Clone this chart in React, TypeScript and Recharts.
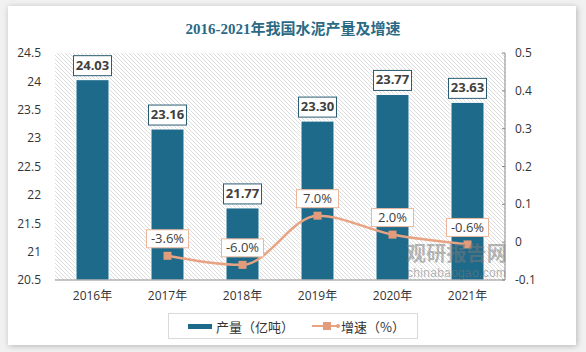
import React from "react";
import {
  ComposedChart,
  Bar,
  Line,
  XAxis,
  YAxis,
  CartesianGrid,
  LabelList,
} from "recharts";

const years = ["2016年", "2017年", "2018年", "2019年", "2020年", "2021年"];
const output = [24.03, 23.16, 21.77, 23.3, 23.77, 23.63];
const growth = [null, -0.036, -0.06, 0.07, 0.02, -0.006];
const leftTicks = [20.5, 21, 21.5, 22, 22.5, 23, 23.5, 24, 24.5];
const rightTicks = [-0.1, 0, 0.1, 0.2, 0.3, 0.4, 0.5];

const data = years.map((name, i) => ({
  name,
  output: output[i],
  growth: growth[i],
}));

const BAR = "#1d6a8b";
const LINE = "#e8a383";
const FONT = "'Open Sans', 'Noto Sans CJK SC', sans-serif";

const BarLabel = (props: any) => {
  const { x, y, width, value } = props;
  const cx = x + width / 2;
  return (
    <g>
      <rect x={cx - 19} y={y - 24} width={38} height={20} fill="#fff" stroke="#2a5d74" strokeWidth={1} />
      <text x={cx} y={y - 10} textAnchor="middle" fontSize={13} fontWeight="bold" fill="#404040" fontFamily={FONT}>
        {Number(value).toFixed(2)}
      </text>
    </g>
  );
};

const LineLabel = (props: any) => {
  const { x, y, value } = props;
  if (value === null || value === undefined) return null;
  return (
    <g>
      <rect x={x - 21} y={y - 26} width={42} height={18} fill="#fff" stroke="#eab79c" strokeWidth={1} />
      <text x={x} y={y - 12.5} textAnchor="middle" fontSize={13} fill="#404040" fontFamily={FONT}>
        {(value * 100).toFixed(1) + "%"}
      </text>
    </g>
  );
};

const SquareDot = (props: any) => {
  const { cx, cy, value } = props;
  if (value === null || value === undefined || cx == null || cy == null) return <g />;
  return <rect x={cx - 4} y={cy - 4} width={8} height={8} fill="#e39c79" />;
};

const RightTick = (props: any) => {
  const { x, y, payload } = props;
  return (
    <g>
      <line x1={x - 13} x2={x - 10} y1={y} y2={y} stroke="#868686" />
      <text x={x} y={y + 4} textAnchor="start" fontSize={12} fill="#333" fontFamily={FONT}>
        {String(payload.value)}
      </text>
    </g>
  );
};

const App = () => {
  return (
    <div style={{ position: "absolute", left: 0, top: 0, width: 586, height: 352, background: "#f1f1f1", overflow: "hidden" }}>
      <div
        style={{
          position: "absolute",
          left: 8,
          top: 6,
          width: 568,
          height: 339,
          background: "#fff",
          boxShadow: "1px 1px 6px rgba(0,0,0,0.25)",
        }}
      />
      <div
        style={{
          position: "absolute",
          left: 0,
          top: 17,
          width: 586,
          textAlign: "center",
          fontFamily: "'Liberation Serif', 'Noto Sans CJK SC', serif",
          fontWeight: "bold",
          fontSize: 15,
          color: "#2b6a85",
        }}
      >
        2016-2021年我国水泥产量及增速
      </div>
      <div style={{ position: "absolute", left: 0, top: 0 }}>
        <ComposedChart width={586} height={352} data={data} margin={{ top: 53, right: 21, bottom: 40, left: 0 }}>
          <defs>
            <pattern id="hatch" width="4" height="4" patternUnits="userSpaceOnUse">
              <rect width="4" height="4" fill="#fff" />
              <path d="M-1,-1 L5,5 M-1,3 L1,5 M3,-1 L5,1" stroke="#d4d4d4" strokeWidth={0.8} />
            </pattern>
          </defs>
          <CartesianGrid horizontal={false} vertical={false} fill="url(#hatch)" />
          <XAxis
            dataKey="name"
            axisLine={{ stroke: "#8c8c8c" }}
            tickLine={false}
            tickSize={0}
            tickMargin={11}
            height={32}
            tick={{ fontSize: 12, fill: "#333", fontFamily: FONT }}
            interval={0}
          />
          <YAxis
            yAxisId="left"
            domain={[20.5, 24.5]}
            ticks={leftTicks}
            width={55}
            axisLine={false}
            tickLine={false}
            tickSize={0}
            tickMargin={14}
            tick={{ fontSize: 12, fill: "#333", fontFamily: FONT }}
            allowDataOverflow
          />
          <YAxis
            yAxisId="right"
            orientation="right"
            domain={[-0.1, 0.5]}
            ticks={rightTicks}
            width={60}
            axisLine={{ stroke: "#868686" }}
            tickLine={false}
            tickSize={0}
            tickMargin={10}
            tick={<RightTick />}
          />
          <Bar yAxisId="left" dataKey="output" fill={BAR} stroke="#fff" strokeWidth={1} barSize={33} isAnimationActive={false}>
            <LabelList dataKey="output" content={<BarLabel />} />
          </Bar>
          <Line
            yAxisId="right"
            dataKey="growth"
            type="monotone"
            stroke={LINE}
            strokeWidth={2.5}
            dot={<SquareDot />}
            activeDot={false}
            connectNulls
            isAnimationActive={false}
          >
            <LabelList dataKey="growth" content={<LineLabel />} />
          </Line>
        </ComposedChart>
      </div>
      <div
        style={{
          position: "absolute",
          left: 406,
          top: 243,
          lineHeight: "20px",
          fontFamily: "'Noto Sans CJK SC', sans-serif",
          fontWeight: "bold",
          fontSize: 20,
          color: "rgba(120,120,120,0.55)",
          letterSpacing: 0.2,
        }}
      >
        观研报告网
      </div>
      <div
        style={{
          position: "absolute",
          left: 407,
          top: 266,
          lineHeight: "14px",
          fontFamily: "'Liberation Sans', sans-serif",
          fontSize: 12,
          color: "rgba(120,120,120,0.55)",
          letterSpacing: 0.3,
        }}
      >
        chinabaogao.com
      </div>
      <div
        style={{
          position: "absolute",
          left: 168,
          top: 313,
          width: 248,
          height: 24,
          border: "1px solid #d9d9d9",
          background: "#fff",
          fontFamily: "'Noto Sans CJK SC', sans-serif",
          fontSize: 13,
          color: "#333",
        }}
      >
        <div style={{ position: "absolute", left: 19, top: 10, width: 24, height: 5, background: BAR }} />
        <div style={{ position: "absolute", left: 47, top: 3, whiteSpace: "nowrap" }}>产量（亿吨）</div>
        <svg style={{ position: "absolute", left: 143, top: 5 }} width={30} height={14}>
          <line x1={0} x2={26} y1={7} y2={7} stroke={LINE} strokeWidth={2} />
          <rect x={11} y={3} width={8} height={8} fill="#e39c79" />
          <circle cx={26} cy={7} r={2} fill="#e39c79" />
        </svg>
        <div style={{ position: "absolute", left: 172, top: 3, whiteSpace: "nowrap" }}>增速（%）</div>
      </div>
    </div>
  );
};

export default App;
